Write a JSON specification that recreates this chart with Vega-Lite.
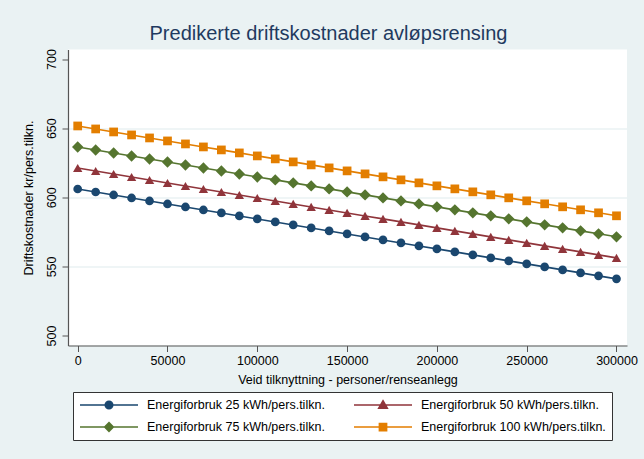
{
  "$schema": "https://vega.github.io/schema/vega-lite/v6.json",
  "width": 559,
  "height": 296,
  "autosize": {"type": "none"},
  "padding": {"left": 68, "top": 49.5, "right": 17, "bottom": 113.5},
  "background": "#eaf2f3",
  "title": {
    "text": "Predikerte driftskostnader avløpsrensing",
    "font": "Liberation Sans",
    "fontSize": 20,
    "fontWeight": "normal",
    "color": "#1f3a60",
    "anchor": "middle",
    "frame": "group",
    "dx": -19,
    "baseline": "alphabetic",
    "offset": -11
  },
  "config": {
    "view": {"fill": "white", "stroke": null},
    "axis": {
      "labelFont": "Liberation Sans",
      "titleFont": "Liberation Sans",
      "labelFontSize": 12.5,
      "titleFontSize": 12.5,
      "titleFontWeight": "normal",
      "labelColor": "#000000",
      "titleColor": "#000000",
      "domainColor": "#555555",
      "domainWidth": 1.2,
      "tickColor": "#555555",
      "tickWidth": 1,
      "tickSize": 6
    },
    "legend": {
      "labelFont": "Liberation Sans",
      "labelFontSize": 12.5,
      "labelColor": "#000000"
    }
  },
  "data": {
    "values": [
      {"x": 0, "25": 606.00, "50": 621.20, "75": 636.40, "100": 651.60},
      {"x": 10000, "25": 603.83, "50": 619.03, "75": 634.23, "100": 649.43},
      {"x": 20000, "25": 601.67, "50": 616.87, "75": 632.07, "100": 647.27},
      {"x": 30000, "25": 599.50, "50": 614.70, "75": 629.90, "100": 645.10},
      {"x": 40000, "25": 597.33, "50": 612.53, "75": 627.73, "100": 642.93},
      {"x": 50000, "25": 595.17, "50": 610.37, "75": 625.57, "100": 640.77},
      {"x": 60000, "25": 593.00, "50": 608.20, "75": 623.40, "100": 638.60},
      {"x": 70000, "25": 590.83, "50": 606.03, "75": 621.23, "100": 636.43},
      {"x": 80000, "25": 588.67, "50": 603.87, "75": 619.07, "100": 634.27},
      {"x": 90000, "25": 586.50, "50": 601.70, "75": 616.90, "100": 632.10},
      {"x": 100000, "25": 584.33, "50": 599.53, "75": 614.73, "100": 629.93},
      {"x": 110000, "25": 582.17, "50": 597.37, "75": 612.57, "100": 627.77},
      {"x": 120000, "25": 580.00, "50": 595.20, "75": 610.40, "100": 625.60},
      {"x": 130000, "25": 577.83, "50": 593.03, "75": 608.23, "100": 623.43},
      {"x": 140000, "25": 575.67, "50": 590.87, "75": 606.07, "100": 621.27},
      {"x": 150000, "25": 573.50, "50": 588.70, "75": 603.90, "100": 619.10},
      {"x": 160000, "25": 571.33, "50": 586.53, "75": 601.73, "100": 616.93},
      {"x": 170000, "25": 569.17, "50": 584.37, "75": 599.57, "100": 614.77},
      {"x": 180000, "25": 567.00, "50": 582.20, "75": 597.40, "100": 612.60},
      {"x": 190000, "25": 564.83, "50": 580.03, "75": 595.23, "100": 610.43},
      {"x": 200000, "25": 562.67, "50": 577.87, "75": 593.07, "100": 608.27},
      {"x": 210000, "25": 560.50, "50": 575.70, "75": 590.90, "100": 606.10},
      {"x": 220000, "25": 558.33, "50": 573.53, "75": 588.73, "100": 603.93},
      {"x": 230000, "25": 556.17, "50": 571.37, "75": 586.57, "100": 601.77},
      {"x": 240000, "25": 554.00, "50": 569.20, "75": 584.40, "100": 599.60},
      {"x": 250000, "25": 551.83, "50": 567.03, "75": 582.23, "100": 597.43},
      {"x": 260000, "25": 549.67, "50": 564.87, "75": 580.07, "100": 595.27},
      {"x": 270000, "25": 547.50, "50": 562.70, "75": 577.90, "100": 593.10},
      {"x": 280000, "25": 545.33, "50": 560.53, "75": 575.73, "100": 590.93},
      {"x": 290000, "25": 543.17, "50": 558.37, "75": 573.57, "100": 588.77},
      {"x": 300000, "25": 541.00, "50": 556.20, "75": 571.40, "100": 586.60}
    ]
  },
  "transform": [{"fold": ["25", "50", "75", "100"], "as": ["s", "y"]}],
  "encoding": {
    "x": {
      "field": "x",
      "type": "quantitative",
      "scale": {"domain": [-5400, 305850], "nice": false, "zero": false},
      "axis": {
        "title": "Veid tilknyttning - personer/renseanlegg",
        "values": [0, 50000, 100000, 150000, 200000, 250000, 300000],
        "format": "d",
        "grid": false,
        "labelPadding": 3,
        "titlePadding": 6
      }
    },
    "y": {
      "field": "y",
      "type": "quantitative",
      "scale": {"domain": [492.8, 706.9], "nice": false, "zero": false},
      "axis": {
        "title": "Driftskostnader kr/pers.tilkn.",
        "values": [500, 550, 600, 650, 700],
        "labelAngle": -90,
        "labelAlign": "center",
        "labelBaseline": "bottom",
        "labelPadding": 4,
        "titlePadding": 10,
        "grid": true,
        "gridColor": "#eaf2f3",
        "gridWidth": 1.3,
        "gridOpacity": {"condition": {"test": "datum.value == 500 || datum.value == 700", "value": 0}, "value": 1}
      }
    }
  },
  "layer": [
    {
      "transform": [{"filter": "datum.s == '25'"}],
      "mark": {"type": "line", "strokeWidth": 1.6, "color": "#1a476f",
               "point": {"filled": true, "shape": "circle", "size": 76, "color": "#1a476f", "opacity": 1}}
    },
    {
      "transform": [{"filter": "datum.s == '50'"}],
      "mark": {"type": "line", "strokeWidth": 1.6, "color": "#90353b",
               "point": {"filled": true, "shape": "triangle-up", "size": 88, "color": "#90353b", "opacity": 1}}
    },
    {
      "transform": [{"filter": "datum.s == '75'"}],
      "mark": {"type": "line", "strokeWidth": 1.6, "color": "#55752f",
               "point": {"filled": true, "shape": "diamond", "size": 130, "color": "#55752f", "opacity": 1}}
    },
    {
      "transform": [{"filter": "datum.s == '100'"}],
      "mark": {"type": "line", "strokeWidth": 1.6, "color": "#e37e00",
               "point": {"filled": true, "shape": "square", "size": 76, "color": "#e37e00", "opacity": 1}}
    },
    {
      "transform": [{"filter": "datum.x < 0"}],
      "mark": {"type": "point", "filled": true, "opacity": 1, "strokeWidth": 1.5},
      "encoding": {
        "shape": {
          "field": "s",
          "type": "nominal",
          "scale": {
            "domain": ["25", "50", "75", "100"],
            "range": [
              "M-1,0H1M0.13,0A0.13,0.13,0,1,1,-0.13,0A0.13,0.13,0,1,1,0.13,0Z",
              "M-1,0H1M0,-0.15L0.15,0.11L-0.15,0.11Z",
              "M-1,0H1M0,-0.15L0.15,0L0,0.15L-0.15,0Z",
              "M-1,0H1M-0.125,-0.125H0.125V0.125H-0.125Z"
            ]
          },
          "legend": {
            "title": null,
            "orient": "none",
            "direction": "horizontal",
            "legendX": 5,
            "legendY": 342.5,
            "columns": 2,
            "padding": 6,
            "rowPadding": 8,
            "columnPadding": 28,
            "symbolSize": 3364,
            "symbolStrokeWidth": 1.5,
            "symbolOpacity": 1,
            "clipHeight": 14,
            "labelOffset": 8,
            "labelLimit": 0,
            "fillColor": "white",
            "strokeColor": "#333333",
            "labelExpr": "'Energiforbruk ' + datum.label + ' kWh/pers.tilkn.'"
          }
        },
        "fill": {
          "field": "s",
          "type": "nominal",
          "scale": {"domain": ["25", "50", "75", "100"], "range": ["#1a476f", "#90353b", "#55752f", "#e37e00"]}
        },
        "stroke": {
          "field": "s",
          "type": "nominal",
          "scale": {"domain": ["25", "50", "75", "100"], "range": ["#1a476f", "#90353b", "#55752f", "#e37e00"]}
        }
      }
    }
  ]
}
